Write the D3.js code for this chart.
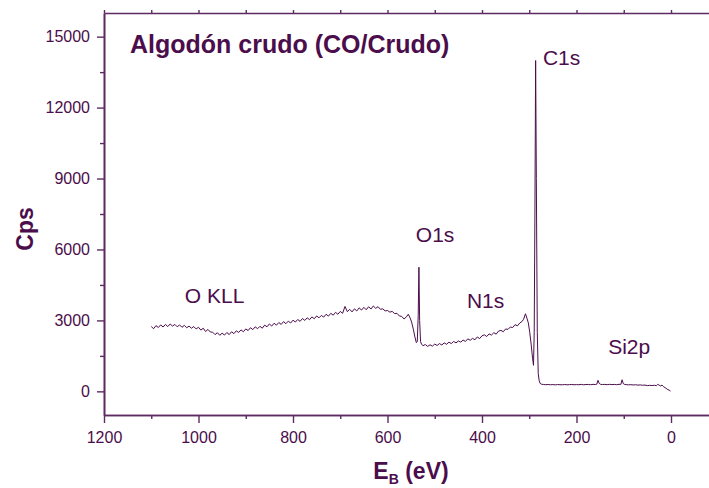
<!DOCTYPE html>
<html>
<head>
<meta charset="utf-8">
<script src="https://cdn.jsdelivr.net/npm/d3@7"></script>
<style>
  html, body { margin: 0; padding: 0; background: #fff; }
  svg { display: block; font-family: "Liberation Sans", Arial, sans-serif; }
</style>
</head>
<body>
<svg id="xpsSVG"></svg>
<script>
// XPS survey spectrum, [binding energy (eV), counts per second]
const spectrum = [
  [1100, 2740], [1095, 2650], [1090, 2780], [1085, 2700], [1080, 2810], [1075, 2720],
  [1070, 2830], [1065, 2740], [1060, 2850], [1055, 2760], [1050, 2830], [1045, 2730],
  [1040, 2810], [1035, 2710], [1030, 2790], [1025, 2690], [1020, 2760], [1015, 2670],
  [1010, 2740], [1005, 2640], [1000, 2710], [995, 2590], [990, 2670], [985, 2530],
  [980, 2620], [975, 2510], [970, 2500], [965, 2400], [960, 2480], [955, 2370],
  [950, 2460], [945, 2380], [940, 2490], [935, 2400], [930, 2520], [925, 2440],
  [920, 2560], [915, 2490], [910, 2600], [905, 2520], [900, 2640], [895, 2570],
  [890, 2690], [885, 2610], [880, 2730], [875, 2650], [870, 2750], [865, 2670],
  [860, 2800], [855, 2730], [850, 2850], [845, 2760], [840, 2880], [835, 2800],
  [830, 2910], [825, 2830], [820, 2950], [815, 2860], [810, 2970], [805, 2890],
  [800, 3010], [795, 2930], [790, 3040], [785, 2960], [780, 3080], [775, 3000],
  [770, 3110], [765, 3030], [760, 3150], [755, 3070], [750, 3190], [745, 3110],
  [740, 3210], [735, 3140], [730, 3260], [725, 3180], [720, 3300], [715, 3220],
  [710, 3340], [705, 3260], [700, 3380], [695, 3300], [690, 3590], [685, 3370],
  [680, 3470], [675, 3360], [670, 3490], [665, 3400], [660, 3530], [655, 3440],
  [650, 3550], [645, 3450], [640, 3580], [635, 3480], [630, 3610], [625, 3510],
  [620, 3580], [615, 3470], [610, 3490], [605, 3400], [600, 3420], [595, 3350],
  [590, 3380], [585, 3290], [580, 3300], [575, 3190], [570, 3170], [565, 3060],
  [560, 3150], [556, 3260], [552, 3100], [549, 2930], [545, 2600], [542, 2300],
  [539, 2060], [537, 2100], [535, 3200], [533.5, 5250], [532, 3000], [530, 2100],
  [528, 2000], [525, 1930], [520, 1980], [515, 1900], [510, 1970], [505, 1910],
  [500, 2000], [495, 1940], [490, 2020], [485, 1960], [480, 2050], [475, 1990],
  [470, 2080], [465, 2020], [460, 2110], [455, 2050], [450, 2130], [445, 2080],
  [440, 2170], [435, 2110], [430, 2220], [425, 2160], [420, 2240], [415, 2180],
  [410, 2300], [405, 2230], [400, 2350], [395, 2390], [390, 2320], [385, 2430],
  [380, 2380], [375, 2480], [370, 2420], [365, 2550], [360, 2580], [355, 2520],
  [350, 2640], [345, 2620], [340, 2720], [335, 2700], [330, 2820], [325, 2770],
  [320, 2890], [315, 2960], [312, 3050], [308, 3280], [305, 3100], [302, 2900],
  [299, 2500], [296, 2000], [293, 1400], [291, 1100], [289.5, 2500], [288, 7500],
  [286.5, 13990], [285, 9000], [283, 2500], [281, 750], [279, 450], [277, 340],
  [274, 300], [270, 292], [265, 280], [260, 290], [255, 278], [250, 286],
  [245, 274], [240, 288], [235, 280], [230, 276], [225, 290], [220, 276],
  [215, 284], [210, 292], [205, 278], [200, 286], [195, 280], [190, 294],
  [185, 278], [180, 288], [175, 292], [170, 280], [165, 296], [160, 288],
  [157, 302], [154.5, 465], [152, 336], [149, 296], [145, 288], [140, 294],
  [135, 282], [130, 296], [125, 286], [120, 292], [115, 282], [110, 296],
  [106, 298], [103.5, 490], [101, 326], [98, 292], [95, 284], [90, 276],
  [85, 282], [80, 270], [75, 278], [70, 264], [65, 272], [60, 258],
  [55, 266], [50, 242], [45, 254], [40, 246], [35, 258], [31, 238],
  [28, 296], [25, 258], [22, 230], [19, 266], [16, 200], [12, 150],
  [8, 90], [4, 50], [1, 12]
];

const xTicks = [1200, 1000, 800, 600, 400, 200, 0],
  xMinorTicks = [1100, 900, 700, 500, 300, 100],
  yTicks = [0, 3000, 6000, 9000, 12000, 15000],
  yMinorTicks = [1500, 4500, 7500, 10500, 13500];

// peak annotations, anchored in data units [eV, cps]
const peakLabels = [
  ['O KLL', 1029, 3720],
  ['O1s', 540, 6300],
  ['N1s', 432, 3510],
  ['C1s', 271, 13820],
  ['Si2p', 133, 1600]
];

const chartTitle = 'Algodón crudo (CO/Crudo)';

(function() {
  const svgDim = { w: 709, h: 488 },
    plot = { left: 104, top: 13, bottom: 415, right: 718.25 },
    ink = '#4b0d4b',
    axisInk = '#5e2a62',
    xScale = d3.scaleLinear().domain([1200, -100]).range([plot.left, plot.right]),
    yScale = d3.scaleLinear().domain([-1000, 16000]).range([plot.bottom, plot.top]);

  const $svg = d3.select('#xpsSVG')
    .attr('width', svgDim.w)
    .attr('height', svgDim.h);

  // spectrum
  const line = d3.line()
    .x((d) => xScale(d[0]))
    .y((d) => yScale(d[1]));
  $svg.append('path')
    .datum(spectrum)
    .attr('d', line)
    .attr('fill', 'none')
    .attr('stroke', ink)
    .attr('stroke-width', 1)
    .attr('stroke-linejoin', 'round');

  const styleAxis = (g) => {
    g.select('.domain').attr('stroke', axisInk).attr('stroke-width', 1.6);
    g.selectAll('.tick line').attr('stroke', axisInk).attr('stroke-width', 1.4);
    g.selectAll('.tick text')
      .attr('fill', ink)
      .attr('font-size', 16)
      .attr('font-family', '"Liberation Sans", Arial, sans-serif');
  };

  // bottom axis
  $svg.append('g')
    .attr('transform', 'translate(0,' + plot.bottom + ')')
    .call(d3.axisBottom(xScale).tickValues(xMinorTicks).tickSize(4).tickFormat('').tickSizeOuter(0))
    .call(styleAxis);
  $svg.append('g')
    .attr('transform', 'translate(0,' + plot.bottom + ')')
    .call(d3.axisBottom(xScale).tickValues(xTicks).tickSize(8).tickPadding(9).tickSizeOuter(0).tickFormat(d3.format('d')))
    .call(styleAxis);

  // top axis
  $svg.append('g')
    .attr('transform', 'translate(0,' + plot.top + ')')
    .call(d3.axisTop(xScale).tickValues(xTicks.concat(xMinorTicks)).tickSize(3).tickFormat('').tickSizeOuter(0))
    .call(styleAxis);

  // left axis
  $svg.append('g')
    .attr('transform', 'translate(' + plot.left + ',0)')
    .call(d3.axisLeft(yScale).tickValues(yMinorTicks).tickSize(4).tickFormat('').tickSizeOuter(0))
    .call(styleAxis);
  $svg.append('g')
    .attr('transform', 'translate(' + plot.left + ',0)')
    .call(d3.axisLeft(yScale).tickValues(yTicks).tickSize(7).tickPadding(7).tickSizeOuter(0).tickFormat(d3.format('d')))
    .call(styleAxis);

  // right axis (falls just outside the window)
  $svg.append('line')
    .attr('x1', plot.right).attr('x2', plot.right)
    .attr('y1', plot.top).attr('y2', plot.bottom)
    .attr('stroke', axisInk)
    .attr('stroke-width', 1.6);

  // axis titles
  $svg.append('text')
    .text('Cps')
    .attr('text-anchor', 'middle')
    .attr('font-size', 23)
    .attr('font-weight', 'bold')
    .attr('fill', ink)
    .attr('transform', 'translate(33, 229) rotate(-90)');

  const $xTitle = $svg.append('text')
    .attr('text-anchor', 'middle')
    .attr('font-size', 23)
    .attr('font-weight', 'bold')
    .attr('fill', ink)
    .attr('x', 411)
    .attr('y', 479);
  $xTitle.append('tspan').text('E');
  $xTitle.append('tspan').text('B').attr('font-size', 14).attr('dy', 5);
  $xTitle.append('tspan').text(' (eV)').attr('dy', -5);

  // chart title
  $svg.append('text')
    .text(chartTitle)
    .attr('font-size', 25)
    .attr('font-weight', 'bold')
    .attr('fill', ink)
    .attr('x', 130)
    .attr('y', 53);

  // peak labels
  $svg.append('g')
    .selectAll('text')
    .data(peakLabels)
    .enter()
    .append('text')
    .text((d) => d[0])
    .attr('font-size', 21)
    .attr('fill', ink)
    .attr('x', (d) => xScale(d[1]))
    .attr('y', (d) => yScale(d[2]));
})();
</script>
</body>
</html>
